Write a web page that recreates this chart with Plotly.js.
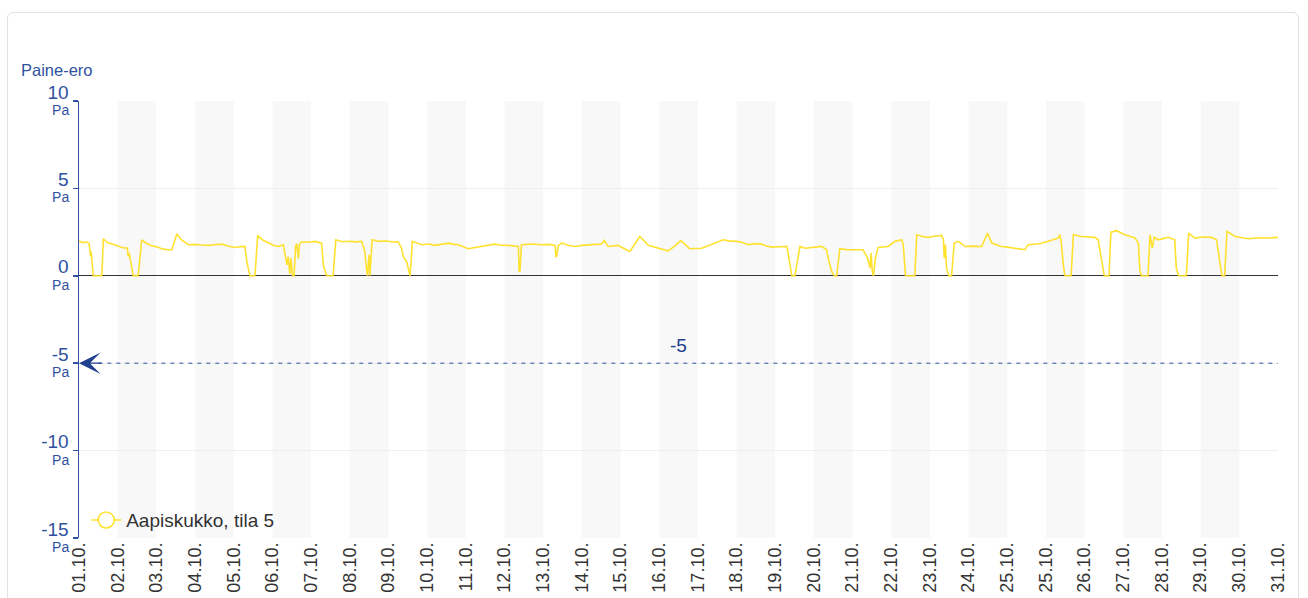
<!DOCTYPE html>
<html>
<head>
<meta charset="utf-8">
<script src="https://cdn.plot.ly/plotly-3.0.1.min.js"></script>
<style>
  html, body { margin: 0; padding: 0; background: #fff; }
  #card { position: absolute; left: 7px; top: 12px; width: 1292px; height: 600px;
          border: 1px solid #e2e2e2; border-radius: 6px; box-sizing: border-box; }
  #chart { position: absolute; left: 0; top: 0; width: 1308px; height: 598px; }
</style>
</head>
<body>
<div id="card"></div>
<div id="chart"></div>
<script>
// Category tick labels (day axis positions 0..31)
const dayLabels = ["01.10.","02.10.","03.10.","04.10.","05.10.","06.10.","07.10.","08.10.",
  "09.10.","10.10.","11.10.","12.10.","13.10.","14.10.","15.10.","16.10.","17.10.","18.10.",
  "19.10.","20.10.","21.10.","22.10.","23.10.","24.10.","25.10.","25.10.","26.10.","27.10.",
  "28.10.","29.10.","30.10.","31.10."];

// Y ticks
const yTickVals = [-15, -10, -5, 0, 5, 10];
const yTickNums = ["-15", "-10", "-5", "0", "5", "10"];
const yUnit = "Pa";

// Series: Aapiskukko, tila 5 (x in days from 01.10., y in Pa)
const seriesName = "Aapiskukko, tila 5";
const tDays = [0.00,0.12,0.20,0.26,0.30,0.31,0.37,0.59,0.63,0.75,0.88,1.01,1.12,1.23,1.25,1.27,1.30,1.32,1.40,1.53,
  1.62,1.75,1.88,2.00,2.14,2.27,2.40,2.53,2.65,2.83,3.00,3.17,3.34,3.50,3.69,3.85,4.03,4.15,4.29,4.34,4.42,4.55,
  4.62,4.75,4.89,5.02,5.15,5.28,5.33,5.38,5.41,5.45,5.48,5.52,5.56,5.60,5.63,5.67,5.70,5.76,5.95,6.10,6.27,6.32,6.40,6.57,
  6.64,6.80,7.00,7.15,7.31,7.35,7.39,7.43,7.46,7.50,7.52,7.58,7.75,7.95,8.10,8.25,8.34,8.38,8.47,8.56,
  8.62,8.86,9.05,9.20,9.38,9.55,9.70,9.81,10.06,10.25,10.41,10.60,10.75,10.92,11.10,11.36,11.38,11.40,11.44,11.70,11.96,
  12.15,12.31,12.33,12.35,12.39,12.48,12.65,12.82,13.00,13.17,13.35,13.51,13.58,13.68,13.80,13.94,14.10,14.24,14.50,
  14.72,14.85,14.98,15.10,15.23,15.40,15.56,15.79,15.95,16.10,16.30,16.44,16.55,16.66,16.80,17.00,17.15,17.30,17.48,17.65,
  17.78,17.91,18.10,18.30,18.34,18.43,18.51,18.64,18.77,19.00,19.20,19.33,19.37,19.46,19.53,19.59,19.67,19.85,20.06,
  20.27,20.39,20.45,20.48,20.51,20.54,20.59,20.66,20.80,20.92,21.10,21.27,21.31,21.37,21.61,21.66,21.80,21.96,22.12,
  22.30,22.35,22.37,22.40,22.43,22.49,22.56,22.63,22.73,22.91,23.10,23.34,23.49,23.60,23.85,24.00,24.20,24.46,24.54,
  24.84,25.06,25.20,25.32,25.36,25.39,25.45,25.49,25.65,25.71,25.92,26.10,26.27,26.35,26.44,26.51,26.63,26.68,26.83,
  27.04,27.15,27.30,27.39,27.43,27.47,27.64,27.69,27.75,27.80,27.90,28.05,28.16,28.33,28.37,28.43,28.63,28.69,28.85,
  29.05,29.28,29.41,29.47,29.52,29.55,29.62,29.68,29.89,30.05,30.23,30.50,30.75,31.00];
const paValues = [1.97,1.90,1.93,1.85,1.11,1.40,0.00,0.00,2.12,1.87,1.80,1.68,1.62,1.58,1.62,1.11,1.30,1.01,0.00,0.00,
  2.06,1.85,1.72,1.66,1.55,1.50,1.49,2.39,2.05,1.78,1.80,1.76,1.74,1.78,1.81,1.70,1.62,1.66,1.68,0.80,0.00,0.00,
  2.31,2.05,1.87,1.75,1.68,1.78,1.20,0.63,1.10,0.10,1.00,0.00,0.00,1.70,1.85,1.00,1.80,1.95,1.92,1.97,1.87,0.60,0.00,0.00,
  2.06,1.95,1.98,1.94,1.97,1.68,1.39,0.50,0.00,1.20,0.00,2.06,1.97,1.99,1.93,1.95,1.58,1.11,0.82,0.00,
  1.97,1.78,1.82,1.74,1.80,1.87,1.80,1.78,1.55,1.62,1.68,1.72,1.81,1.75,1.74,1.68,0.25,0.25,1.78,1.82,1.78,
  1.80,1.74,1.10,1.10,1.72,1.87,1.75,1.68,1.74,1.78,1.80,1.81,2.02,1.68,1.72,1.74,1.55,1.39,2.25,
  1.74,1.66,1.58,1.50,1.43,1.70,2.01,1.55,1.57,1.58,1.75,1.87,2.00,2.06,2.00,1.97,1.90,1.78,1.84,1.81,
  1.70,1.64,1.66,1.68,1.20,0.00,0.00,1.68,1.58,1.64,1.68,1.49,1.01,0.25,0.00,0.00,1.55,1.50,1.49,
  1.49,1.01,0.44,1.30,0.25,0.00,1.00,1.62,1.66,1.68,1.97,2.06,1.78,0.00,0.00,2.35,2.25,2.20,2.26,
  2.31,2.06,1.01,1.78,0.44,0.00,0.00,1.87,1.97,1.68,1.70,1.68,2.44,1.87,1.68,1.64,1.58,1.49,1.78,
  1.83,1.97,2.05,2.16,2.35,2.06,0.63,0.00,0.00,2.35,2.25,2.22,2.20,2.06,1.01,0.00,0.00,2.50,2.58,
  2.35,2.28,2.16,1.87,0.25,0.00,0.00,2.35,1.58,2.20,2.06,2.14,2.20,2.06,0.44,0.00,0.00,2.44,2.16,
  2.22,2.20,2.06,1.20,0.44,0.00,0.00,2.54,2.25,2.20,2.12,2.18,2.16,2.20];

// Reference line
const refValue = -5;
const refLabel = "-5";

const blue = "#2f51a0";
const fontFam = "'Liberation Sans', Arial, sans-serif";
const yellow = "rgba(255,222,25,0.9)";

const tickIdx = dayLabels.map((_, i) => i);
const yUnitText = yTickVals.map(() => yUnit);

const shapes = [];
for (let i = 1; i < dayLabels.length - 1; i += 2) {
  shapes.push({type: "rect", xref: "x", yref: "paper", x0: tickIdx[i], x1: tickIdx[i + 1], y0: 0, y1: 1,
    fillcolor: "#f8f8f8", line: {width: 0}, layer: "below"});
}
shapes.push({type: "line", xref: "x", yref: "y", x0: 0.5, x1: tickIdx[tickIdx.length - 1], y0: refValue, y1: refValue,
  line: {color: blue, width: 1, dash: "4px,5px"}});

const traces = [
  {x: tDays, y: paValues, type: "scatter", mode: "lines", name: seriesName, showlegend: false,
   line: {color: yellow, width: 1.6}, hoverinfo: "x+y"},
  {x: [null], y: [null], yaxis: "y2", type: "scatter", mode: "lines+markers", name: seriesName, showlegend: true,
   line: {color: yellow, width: 1.6},
   marker: {symbol: "circle", size: 16, color: "#ffffff", line: {color: yellow, width: 1.6}}}
];

const layout = {
  width: 1308, height: 598,
  margin: {l: 79, r: 30, t: 101, b: 60, pad: 0},
  paper_bgcolor: "rgba(0,0,0,0)", plot_bgcolor: "rgba(0,0,0,0)",
  font: {family: fontFam, color: "#333"},
  showlegend: true,
  legend: {x: 0.006, y: 0.041, xanchor: "left", yanchor: "middle", bgcolor: "rgba(0,0,0,0)",
    font: {size: 19, color: "#333", family: fontFam}},
  xaxis: {range: [0, 31], tickvals: tickIdx, ticktext: dayLabels, tickangle: -90,
    tickfont: {size: 18, color: "#333", family: fontFam}, showgrid: false, zeroline: false,
    showline: false, ticks: "", automargin: false},
  yaxis: {range: [-15, 10], tickvals: yTickVals, ticktext: yTickNums, ticklabelshift: -9,
    tickfont: {size: 19, color: blue, family: fontFam}, showgrid: true, gridcolor: "#eeeeee",
    zeroline: true, zerolinecolor: "#333333", zerolinewidth: 1,
    showline: true, linecolor: blue, linewidth: 1.5, ticks: "outside", ticklen: 5, tickcolor: blue,
    tickwidth: 1.5, automargin: false},
  yaxis2: {range: [-15, 10], overlaying: "y", side: "left", tickvals: yTickVals, ticktext: yUnitText,
    ticklabelshift: 9, tickfont: {size: 14, color: blue, family: fontFam}, showgrid: false,
    zeroline: false, showline: false, ticks: "outside", ticklen: 6, tickcolor: "rgba(0,0,0,0)", automargin: false},
  shapes: shapes,
  annotations: [
    {xref: "paper", yref: "paper", x: -0.050, y: 1.071, xanchor: "left", yanchor: "middle",
     text: "Paine-ero", showarrow: false, font: {size: 16.5, color: blue, family: fontFam}},
    {xref: "x", yref: "y", x: 15.5, y: refValue, yshift: 18, text: refLabel, showarrow: false,
     font: {size: 19, color: "#1f3f8f", family: fontFam}},
    {xref: "x", yref: "y", x: 0, y: refValue, ax: 24, ay: 0, text: "", showarrow: true,
     arrowhead: 3, arrowsize: 3, arrowwidth: 1.2, arrowcolor: "#1f3f8f", standoff: 0}
  ]
};

Plotly.newPlot("chart", traces, layout, {displayModeBar: false, staticPlot: true});
</script>
</body>
</html>
